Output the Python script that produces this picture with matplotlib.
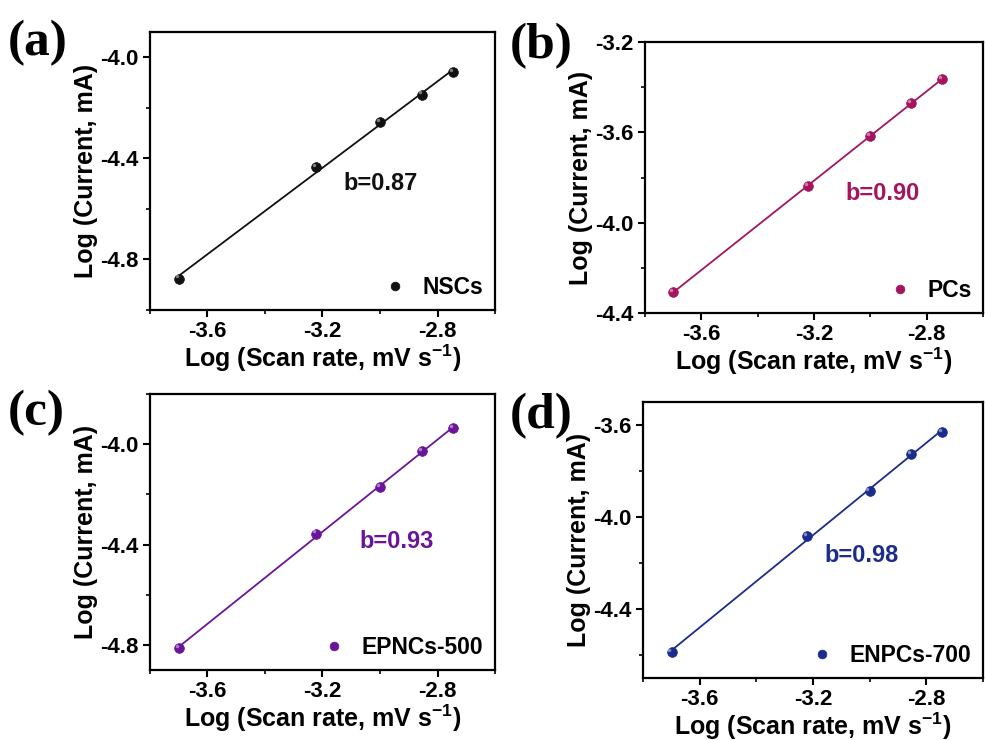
import numpy as np
import matplotlib
matplotlib.use("Agg")
import matplotlib.pyplot as plt
from matplotlib.ticker import MultipleLocator

plt.rcParams['font.family'] = ['Liberation Sans', 'DejaVu Sans']
plt.rcParams['font.weight'] = 'bold'
plt.rcParams['axes.unicode_minus'] = False
plt.rcParams['mathtext.fontset'] = 'custom'
plt.rcParams['mathtext.rm'] = 'Liberation Sans'
plt.rcParams['mathtext.it'] = 'Liberation Sans'
plt.rcParams['mathtext.bf'] = 'Liberation Sans:bold'

# log10 of scan rate
log_scan = [-3.699, -3.222, -3.0, -2.854, -2.745]

# log10 of peak current for each sample
nscs = [-4.876, -4.436, -4.256, -4.148, -4.060]
pcs = [-4.307, -3.838, -3.616, -3.470, -3.364]
epncs500 = [-4.812, -4.356, -4.172, -4.028, -3.936]
enpcs700 = [-4.587, -4.083, -3.887, -3.726, -3.630]

names = ["NSCs", "PCs", "EPNCs-500", "ENPCs-700"]
b_values = ["0.87", "0.90", "0.93", "0.98"]
panel_tags = ["(a)", "(b)", "(c)", "(d)"]
colors = ["#111111", "#A3155F", "#6A1599", "#1B2C8C"]
series = [nscs, pcs, epncs500, enpcs700]

ylims = [(-5.0, -3.9), (-4.4, -3.2), (-4.9, -3.8), (-4.7, -3.5)]

W, H = 985, 740
fig = plt.figure(figsize=(W / 100, H / 100), dpi=100)

# axes boxes in pixels: left, top, right, bottom
boxes = [(150, 32, 495, 310), (645, 42, 983, 313),
         (150, 394, 495, 670), (643, 402, 983, 678)]
# b-value text centres and panel tag positions in pixels
b_pos = [(381, 183), (883, 193), (397, 542), (862, 555)]
tag_pos = [(8, 55), (510, 58), (8, 425), (510, 428)]

for i in range(4):
    l, t, r, b = boxes[i]
    ax = fig.add_axes([l / W, 1 - b / H, (r - l) / W, (b - t) / H])
    x = np.array(log_scan)
    y = np.array(series[i])
    c = colors[i]
    k, m = np.polyfit(x, y, 1)
    ax.plot(x, k * x + m, color=c, lw=1.3, zorder=2)
    ax.plot(x, y, 'o', ms=7, mfc=c, mec=c, mew=0.5, zorder=3,
            label=names[i])
    # small highlight to give the markers a shaded look
    ax.plot(x - 0.008, y + (ylims[i][1] - ylims[i][0]) * 0.008, 'o', ms=2.5,
            mfc='white', mec='none', alpha=0.45, zorder=4)

    ax.set_xlim(-3.8, -2.6)
    ax.set_ylim(*ylims[i])
    ax.xaxis.set_major_locator(MultipleLocator(0.4))
    ax.xaxis.set_minor_locator(MultipleLocator(0.2))
    ax.yaxis.set_major_locator(MultipleLocator(0.4))
    ax.yaxis.set_minor_locator(MultipleLocator(0.2))
    ax.tick_params(which='major', direction='out', length=5, width=1.5,
                   labelsize=16, pad=3)
    ax.tick_params(which='minor', direction='out', length=3, width=1.2)
    ax.tick_params(top=False, right=False)
    for lab in ax.get_xticklabels() + ax.get_yticklabels():
        lab.set_fontweight('bold')
    for s in ax.spines.values():
        s.set_linewidth(1.6)

    ax.set_xlabel(r'Log (Scan rate, mV s$^{-1}$)', fontsize=18,
                  fontweight='bold', labelpad=0)
    ax.set_ylabel('Log (Current, mA)', fontsize=18, fontweight='bold',
                  labelpad=2)

    leg = ax.legend(loc='lower right', frameon=False, fontsize=16.5,
                    handletextpad=0.6, borderaxespad=0.1,
                    handlelength=1.2, markerscale=0.9)
    for txt in leg.get_texts():
        txt.set_fontweight('bold')

    bx, by = b_pos[i]
    fig.text(bx / W, 1 - by / H, "b=" + b_values[i], color=c, fontsize=17,
             fontweight='bold', ha='center', va='center')
    tx, ty = tag_pos[i]
    fig.text(tx / W, 1 - ty / H, panel_tags[i], fontsize=37,
             fontweight='bold', family='Liberation Serif', ha='left',
             va='baseline')

fig.savefig("out.png", dpi=100)
